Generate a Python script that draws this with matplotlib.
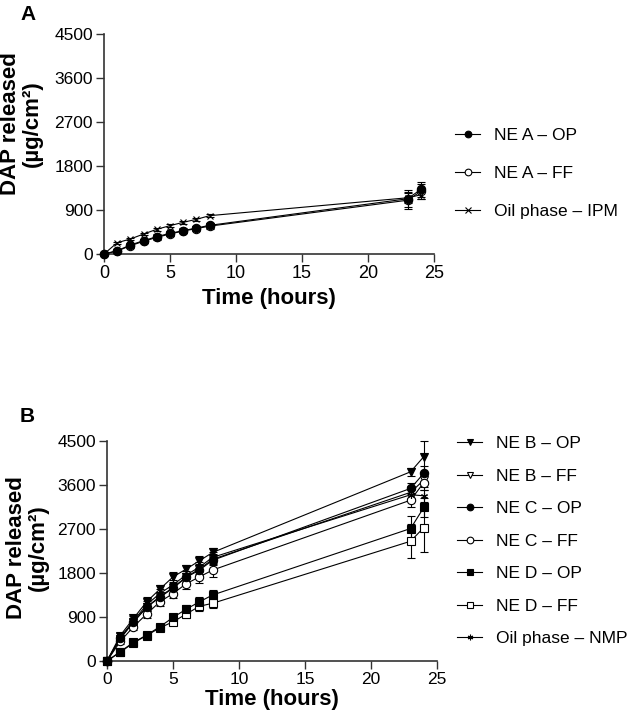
import matplotlib
matplotlib.use('Agg')
import matplotlib.pyplot as plt
import numpy as np

plt.rcParams['font.family'] = ['Liberation Sans', 'DejaVu Sans']

## Data
time_h = [0, 1, 2, 3, 4, 5, 6, 7, 8, 23, 24]

# Panel A
ne_a_op = [0, 68, 184, 273, 355, 423, 477, 532, 586, 1130, 1320]
ne_a_op_err = [0, 30, 40, 40, 45, 45, 50, 50, 55, 170, 150]
ne_a_ff = [0, 60, 170, 260, 340, 410, 470, 520, 570, 1100, 1280]
ne_a_ff_err = [0, 30, 40, 40, 45, 45, 50, 50, 55, 170, 150]
oil_ipm = [0, 231, 307, 409, 505, 580, 648, 709, 784, 1150, 1210]
oil_ipm_err = [0, 20, 20, 25, 25, 25, 25, 30, 30, 100, 80]

# Panel B
ne_b_op = [0, 520, 870, 1210, 1470, 1720, 1880, 2050, 2220, 3870, 4180]
ne_b_op_err = [0, 60, 60, 90, 90, 100, 90, 90, 100, 80, 320]
ne_b_ff = [0, 450, 800, 1100, 1320, 1500, 1720, 1880, 2080, 3450, 3700]
ne_b_ff_err = [0, 50, 60, 80, 90, 90, 90, 100, 100, 120, 150]
ne_c_op = [0, 470, 790, 1100, 1300, 1490, 1710, 1860, 2060, 3530, 3840]
ne_c_op_err = [0, 50, 60, 80, 90, 90, 90, 100, 100, 120, 150]
ne_c_ff = [0, 400, 700, 960, 1210, 1380, 1580, 1720, 1860, 3290, 3650]
ne_c_ff_err = [0, 50, 60, 80, 90, 90, 100, 120, 150, 150, 150]
ne_d_op = [0, 190, 380, 530, 700, 890, 1060, 1210, 1350, 2710, 3140]
ne_d_op_err = [0, 30, 40, 50, 60, 70, 80, 90, 100, 250, 200]
ne_d_ff = [0, 180, 370, 520, 680, 800, 960, 1120, 1180, 2450, 2730]
ne_d_ff_err = [0, 30, 40, 50, 60, 70, 80, 90, 100, 350, 500]
oil_nmp = [0, 480, 820, 1150, 1380, 1560, 1760, 1920, 2120, 3400, 3380]
oil_nmp_err = [0, 50, 60, 80, 90, 90, 90, 100, 100, 100, 120]

series_a = [
    ("NE A \u2013 OP", ne_a_op, ne_a_op_err, 'o', 'k'),
    ("NE A \u2013 FF", ne_a_ff, ne_a_ff_err, 'o', 'white'),
    ("Oil phase \u2013 IPM", oil_ipm, oil_ipm_err, 'x', 'k'),
]
series_b = [
    ("NE B \u2013 OP", ne_b_op, ne_b_op_err, 'v', 'k'),
    ("NE B \u2013 FF", ne_b_ff, ne_b_ff_err, 'v', 'white'),
    ("NE C \u2013 OP", ne_c_op, ne_c_op_err, 'o', 'k'),
    ("NE C \u2013 FF", ne_c_ff, ne_c_ff_err, 'o', 'white'),
    ("NE D \u2013 OP", ne_d_op, ne_d_op_err, 's', 'k'),
    ("NE D \u2013 FF", ne_d_ff, ne_d_ff_err, 's', 'white'),
    ("Oil phase \u2013 NMP", oil_nmp, oil_nmp_err, (6, 2, 0), 'k'),
]

W, H = 627, 714
fig = plt.figure(figsize=(W / 100, H / 100), dpi=100)


def px_axes(left, top, right, bottom):
    return fig.add_axes([left / W, 1 - bottom / H, (right - left) / W, (bottom - top) / H])


def draw_panel(ax, series, xtick_size):
    for label, vals, errs, mk, fc in series:
        filled = fc == 'k'
        ax.errorbar(time_h, vals, yerr=errs, fmt='none', ecolor='k',
                    elinewidth=0.8, capsize=3, capthick=0.8, clip_on=False, zorder=2)
        ms = 6 if mk in ('o', 's', 'v') else 5
        ax.plot(time_h, vals, color='k', lw=0.8, marker=mk, ms=ms,
                mfc=fc, mec='k', mew=0.8, label=label, clip_on=False,
                zorder=4 if filled else 3)
    ax.set_xlim(0, 25)
    ax.set_ylim(0, 4500)
    ax.set_xticks([0, 5, 10, 15, 20, 25])
    ax.set_yticks([0, 900, 1800, 2700, 3600, 4500])
    for s in ('top', 'right'):
        ax.spines[s].set_visible(False)
    for s in ('left', 'bottom'):
        ax.spines[s].set_linewidth(1.2)
        ax.spines[s].set_color('#333333')
    ax.tick_params(axis='both', length=6, width=1.0, color='#333333', pad=2)
    ax.tick_params(axis='x', labelsize=xtick_size)
    ax.tick_params(axis='y', labelsize=12.5)


axA = px_axes(104, 34, 434, 254)
draw_panel(axA, series_a, 13)
axB = px_axes(107, 441, 437, 661)
draw_panel(axB, series_b, 12.5)

# Axis labels
fig.text(104 / W + (330 / W) / 2, 1 - 298 / H, "Time (hours)", ha='center', va='center',
         fontsize=16, fontweight='bold')
fig.text(107 / W + (330 / W) / 2, 1 - 700 / H, "Time (hours)", ha='center', va='center',
         fontsize=16, fontweight='bold')
fig.text(21 / W, 1 - 124 / H, "DAP released\n(\u00b5g/cm\u00b2)", ha='center', va='center',
         rotation=90, fontsize=16, fontweight='bold', multialignment='center', linespacing=1.05)
fig.text(27 / W, 1 - 548 / H, "DAP released\n(\u00b5g/cm\u00b2)", ha='center', va='center',
         rotation=90, fontsize=16, fontweight='bold', multialignment='center', linespacing=1.05)

# Panel letters
fig.text(20 / W, 1 - 15 / H, "A", ha='left', va='center', fontsize=15, fontweight='bold')
fig.text(20 / W, 1 - 417 / H, "B", ha='left', va='center', fontsize=15, fontweight='bold')

# Legends
h, l = axA.get_legend_handles_labels()
fig.legend(h, l, loc='upper left', bbox_to_anchor=(455 / W, 1 - 128 / H), frameon=False,
           fontsize=12.5, handlelength=1.45, handletextpad=0.8, labelspacing=1.3,
           borderpad=0, borderaxespad=0, markerscale=0.8)
h, l = axB.get_legend_handles_labels()
fig.legend(h, l, loc='upper left', bbox_to_anchor=(457 / W, 1 - 436 / H), frameon=False,
           fontsize=12.5, handlelength=1.45, handletextpad=0.8, labelspacing=1.0,
           borderpad=0, borderaxespad=0, markerscale=0.8)

fig.savefig('out.png', dpi=100)
